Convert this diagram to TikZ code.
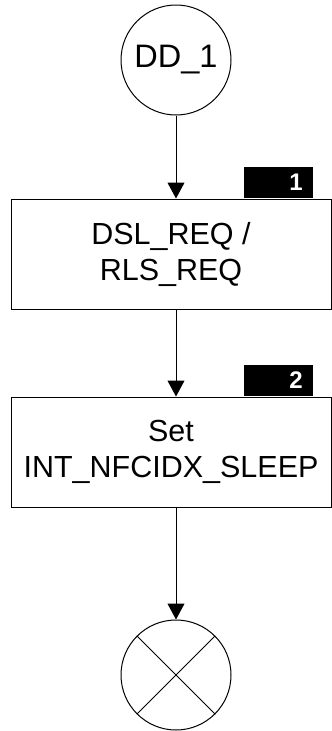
\documentclass[tikz,border=0pt]{standalone}
\usepackage{fontspec}
\setmainfont{Liberation Sans}
\usetikzlibrary{arrows.meta}
\tikzset{
  term/.style={draw,circle,minimum size=110pt,inner sep=0pt,line width=1pt},
  act/.style={draw,rectangle,minimum width=320pt,minimum height=110pt,align=center,
    line width=1pt,font=\fontsize{30.5}{36}\selectfont},
  tag/.style={fill=black,text=white,minimum width=69pt,minimum height=31pt,inner sep=0pt,
    font=\fontsize{24}{24}\selectfont\bfseries},
  flow/.style={line width=1pt,-{Triangle[width=17pt,length=16pt]}}
}
\begin{document}
\begin{tikzpicture}[x=1pt,y=-1pt]
\useasboundingbox (0,0) rectangle (332,731);
\node[term,font=\fontsize{32.5}{33}\selectfont] (start) at (176,60) {DD\_1};
\node[act] (req) at (171,254) {DSL\_REQ /\\RLS\_REQ};
\node[act] (sleep) at (171,452) {Set\\INT\_NFCIDX\_SLEEP};
\node[term] (stop) at (176,675) {};
\draw[line width=1pt] (stop.north west)--(stop.south east) (stop.north east)--(stop.south west);
\node[tag] (n1) at (278.5,182.5) {\hspace*{35pt}1};
\node[tag] (n2) at (278.5,380.5) {\hspace*{35pt}2};
\draw[flow] (start)--(start|-req.north);
\draw[flow] (start|-req.south)--(start|-sleep.north);
\draw[flow] (start|-sleep.south)--(stop);
\end{tikzpicture}
\end{document}
